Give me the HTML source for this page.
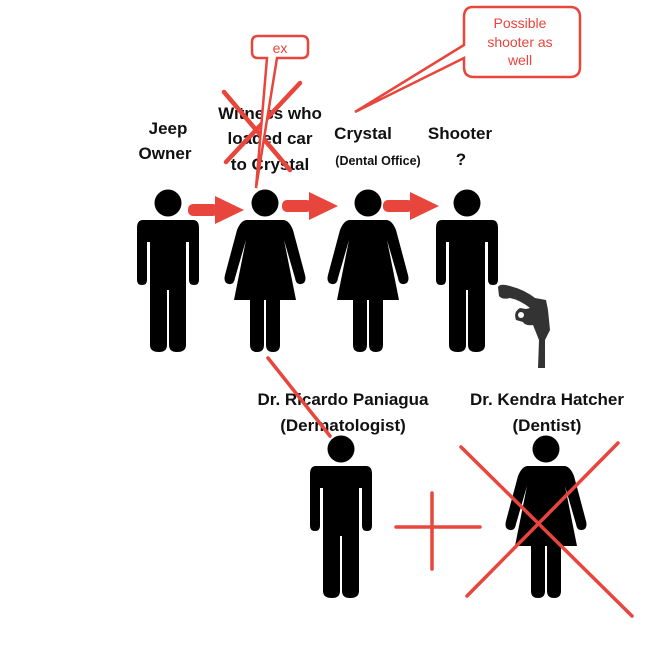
<!DOCTYPE html>
<html><head><meta charset="utf-8"><style>
html,body{margin:0;padding:0;background:#fff;}
svg{display:block;}
text{font-family:"Liberation Sans",Arial,sans-serif;font-weight:bold;fill:#111;text-anchor:middle;}
.c{font-weight:normal;fill:#e8453c;}
</style></head><body>
<svg width="658" height="660" viewBox="0 0 658 660" xmlns="http://www.w3.org/2000/svg">
<defs>
<g id="man">
  <circle cx="0" cy="-17" r="13.5"/>
  <path d="M-25,0 H25 Q31,0 31,8 V60 Q31,65 26,65 Q21,65 21,60 V22 H18 V125 Q18,132 9,132 Q1,132 1,125 V70 H-1 V125 Q-1,132 -9,132 Q-18,132 -18,125 V22 H-21 V60 Q-21,65 -26,65 Q-31,65 -31,60 V8 Q-31,0 -25,0 Z"/>
</g>
<g id="woman">
  <circle cx="0" cy="-17" r="13.5"/>
  <path d="M-18,0 H18 Q24,0 28,10 L40,55 Q42,63 36,64 Q31,65 30,58 L19,20 L31,80 H15 V125 Q15,132 8,132 Q1,132 1,125 V80 H-1 V125 Q-1,132 -8,132 Q-15,132 -15,125 V80 H-31 L-19,20 L-30,58 Q-31,65 -36,64 Q-42,63 -40,55 L-28,10 Q-24,0 -18,0 Z"/>
</g>
<g id="arr"><rect x="0" y="-6" width="30" height="12" rx="5" fill="#e8453c"/><path d="M27,-14 L56,0 L27,14 Z" fill="#e8453c"/></g>
</defs>

<text x="168" y="134" font-size="17">Jeep</text>
<text x="165" y="159" font-size="17">Owner</text>
<text x="270" y="119" font-size="17">Witness who</text>
<text x="270" y="144" font-size="17">loaded car</text>
<text x="270" y="170" font-size="17">to Crystal</text>
<text x="363" y="139" font-size="17">Crystal</text>
<text x="378" y="165" font-size="12.5">(Dental Office)</text>
<text x="460" y="139" font-size="17">Shooter</text>
<text x="461" y="165" font-size="17">?</text>
<text x="343" y="405" font-size="17">Dr. Ricardo Paniagua</text>
<text x="343" y="431" font-size="17">(Dermatologist)</text>
<text x="547" y="405" font-size="17">Dr. Kendra Hatcher</text>
<text x="547" y="431" font-size="17">(Dentist)</text>

<use href="#man" x="168" y="220"/>
<use href="#woman" x="265" y="220"/>
<use href="#woman" x="368" y="220"/>
<use href="#man" x="467" y="220"/>
<use href="#man" x="341" y="466"/>
<use href="#woman" x="546" y="466"/>

<use href="#arr" x="188" y="210"/>
<use href="#arr" x="282" y="206"/>
<use href="#arr" x="383" y="206"/>

<!-- gun -->
<path d="M498,287 Q500,283 510,286 Q525,290 535,298 L546,300 L548,310 L550,330 L545,340 L545,368 L538,368 L539,340 L533,325 Q525,326 523,322 L516,320 Q513,312 520,308 L526,309 L530,308 Q520,300 510,298 Q502,300 499,296 Z" fill="#333"/>
<ellipse cx="521" cy="315" rx="3" ry="3" fill="#fff"/>

<g stroke="#e8453c" stroke-width="4.5" stroke-linecap="round" fill="none">
  <path d="M224,92 L290,170"/>
  <path d="M300,83 L226,162"/>
  <path d="M268,358 L330,436" stroke-width="3.5"/>
  <path d="M396,527 H480 M432,493 V569" stroke-width="3.5"/>
  <path d="M461,447 L632,616" stroke-width="3.5"/>
  <path d="M618,443 L467,596" stroke-width="3.5"/>
</g>
<g stroke="#e8453c" stroke-width="2.5" fill="#fff">
  <path d="M258,36 H302 Q308,36 308,42 V52 Q308,58 302,58 H277 L256,188 L267,58 H258 Q252,58 252,52 V42 Q252,36 258,36 Z"/>
  <path d="M473,7 H570 Q580,7 580,17 V67 Q580,77 570,77 H474 Q464,77 464,67 V58 L355,112 L464,45 V17 Q464,7 473,7 Z"/>
</g>
<text class="c" x="280" y="53" font-size="14">ex</text>
<text class="c" x="520" y="28" font-size="14">Possible</text>
<text class="c" x="520" y="47" font-size="14">shooter as</text>
<text class="c" x="520" y="65" font-size="14">well</text>
</svg>
</body></html>
